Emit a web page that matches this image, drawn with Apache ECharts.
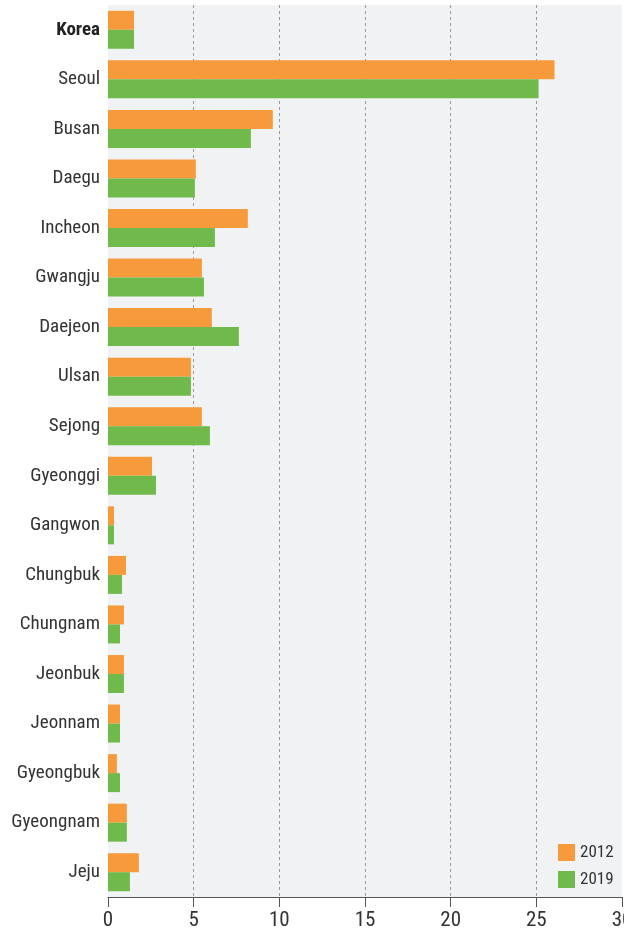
<!DOCTYPE html>
<html><head><meta charset="utf-8">
<script src="https://cdn.jsdelivr.net/npm/echarts@6/dist/echarts.min.js"></script>
<style>html,body{margin:0;padding:0;background:#fff}#c{width:624px;height:935px}</style>
</head><body><div id="c"></div>
<script>
const categories = ["Korea","Seoul","Busan","Daegu","Incheon","Gwangju","Daejeon","Ulsan","Sejong","Gyeonggi","Gangwon","Chungbuk","Chungnam","Jeonbuk","Jeonnam","Gyeongbuk","Gyeongnam","Jeju"];
const values2012 = [1.52,26.06,9.62,5.13,8.16,5.48,6.06,4.84,5.48,2.57,0.35,1.05,0.93,0.93,0.7,0.52,1.1,1.8];
const values2019 = [1.52,25.13,8.34,5.07,6.24,5.6,7.64,4.84,5.95,2.8,0.35,0.82,0.7,0.93,0.7,0.7,1.1,1.28];
const xTicks = [0,5,10,15,20,25,30];
const FONT = '"Liberation Sans Narrow","Roboto Condensed","DejaVu Sans Condensed",Roboto,sans-serif';
const chart = echarts.init(document.getElementById('c'), null, {renderer:'canvas'});
chart.setOption({
  animation:false,
  textStyle:{fontFamily:FONT},
  grid:{left:108,right:2,top:5,bottom:38,show:true,backgroundColor:'#f1f2f4',borderWidth:0,containLabel:false,outerBoundsMode:'none'},
  legend:{orient:'vertical',left:553,top:839,itemWidth:17,itemHeight:17,itemGap:10,
    icon:'rect',textStyle:{fontFamily:FONT,fontSize:17,color:'#333'},
    data:['2012','2019']},
  xAxis:{type:'value',min:xTicks[0],max:xTicks[xTicks.length-1],interval:5,
    axisLine:{show:true,lineStyle:{color:'#555',width:1}},
    axisTick:{show:true,length:10,lineStyle:{color:'#555'}},
    axisLabel:{fontFamily:FONT,fontSize:21,color:'#333',margin:13,hideOverlap:false,
      formatter:v=>xTicks.includes(v)?String(v):''},
    splitLine:{show:true,showMinLine:false,showMaxLine:false,lineStyle:{type:[3,3],color:'#9a9a9a',width:1}}},
  yAxis:{type:'category',data:categories,inverse:true,
    axisLine:{show:false},axisTick:{show:false},
    axisLabel:{margin:8,fontFamily:FONT,fontSize:19,color:'#333',
      formatter:v=>v==='Korea'?'{b|'+v+'}':v,
      rich:{b:{fontWeight:'bold',fontFamily:FONT,fontSize:19,color:'#222'}}}},
  series:[
    {name:'2012',type:'bar',data:values2012,barWidth:19,barGap:'0%',itemStyle:{color:'#f79a3b'}},
    {name:'2019',type:'bar',data:values2019,barWidth:19,barGap:'0%',itemStyle:{color:'#6fba4a'}}
  ]
});
</script></body></html>
